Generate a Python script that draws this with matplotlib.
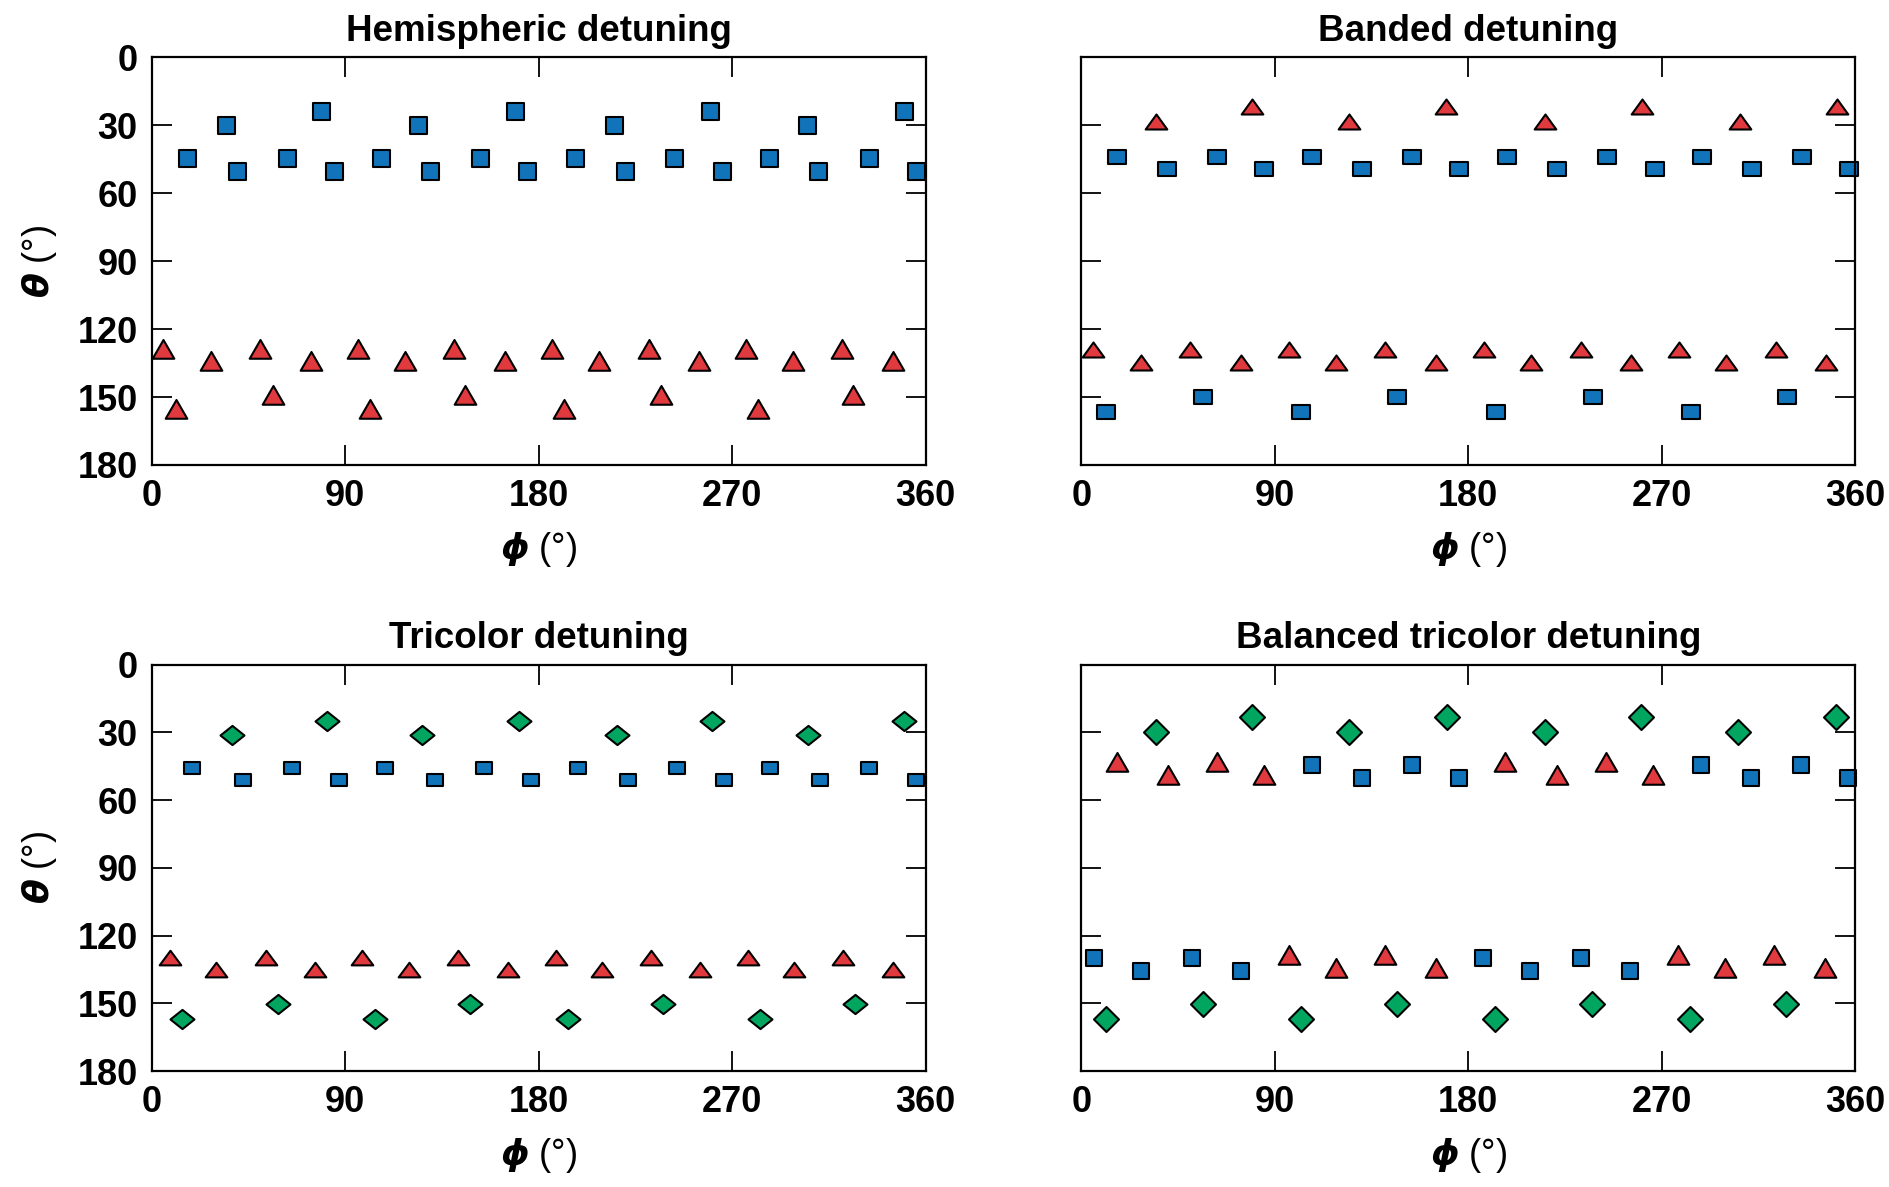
import numpy as np
import matplotlib
matplotlib.use("Agg")
import matplotlib.pyplot as plt
from matplotlib.markers import MarkerStyle
from matplotlib.path import Path

plt.rcParams['font.family'] = ['Liberation Sans', 'DejaVu Sans']
plt.rcParams['mathtext.fontset'] = 'dejavusans'

# ---- data (phi, theta in degrees) ----
titles = ["Hemispheric detuning", "Banded detuning",
          "Tricolor detuning", "Balanced tricolor detuning"]
x_ticks = [0, 90, 180, 270, 360]
y_ticks = [0, 30, 60, 90, 120, 150, 180]

# Hemispheric detuning
hemi_sq_phi = [16.5, 34.6, 39.7, 62.8, 79.0, 84.7, 106.8, 123.9, 129.6, 152.9, 169.1, 174.7,
               197.1, 215.0, 220.4, 243.2, 259.6, 265.3, 287.2, 304.8, 310.2, 333.5, 350.0, 355.4]
hemi_sq_theta = [44.5, 30.0, 50.0, 44.5, 23.5, 50.0, 44.5, 30.0, 50.0, 44.5, 23.5, 50.0,
                 44.5, 30.0, 50.0, 44.5, 23.5, 50.0, 44.5, 30.0, 50.0, 44.5, 23.5, 50.0]
hemi_tri_phi = [5.4, 11.3, 27.8, 50.6, 56.4, 74.1, 96.0, 101.6, 117.8, 140.9, 146.0, 164.2,
                186.3, 191.9, 208.1, 231.2, 236.8, 254.5, 276.3, 282.0, 298.2, 321.3, 326.4, 344.8]
hemi_tri_theta = [130.3, 156.7, 135.6, 130.3, 150.3, 135.6, 130.3, 156.7, 135.6, 130.3, 150.3, 135.6,
                  130.3, 156.7, 135.6, 130.3, 150.3, 135.6, 130.3, 156.7, 135.6, 130.3, 150.3, 135.6]

# Banded detuning
band_tri_phi = [5.4, 27.7, 34.8, 50.8, 74.3, 79.2, 96.4, 118.5, 124.6, 141.5, 165.1, 169.8,
                187.2, 209.0, 215.8, 232.5, 255.8, 260.8, 277.9, 300.0, 306.4, 323.1, 346.6, 351.5]
band_tri_theta = [130.1, 135.7, 29.4, 130.1, 135.7, 23.0, 130.1, 135.7, 29.4, 130.1, 135.7, 23.0,
                  130.1, 135.7, 29.4, 130.1, 135.7, 23.0, 130.1, 135.7, 29.4, 130.1, 135.7, 23.0]
band_sq_phi = [11.3, 16.5, 40.0, 56.7, 63.0, 85.1, 102.3, 107.2, 130.5, 147.0, 153.8, 175.6,
               193.0, 198.0, 221.5, 238.2, 244.5, 266.9, 283.6, 288.7, 312.0, 328.2, 335.3, 357.2]
band_sq_theta = [156.7, 44.0, 49.5, 150.1, 44.0, 49.5, 156.7, 44.0, 49.5, 150.1, 44.0, 49.5,
                 156.7, 44.0, 49.5, 150.1, 44.0, 49.5, 156.7, 44.0, 49.5, 150.1, 44.0, 49.5]

# Tricolor detuning
tri_dia_phi = [14.1, 37.2, 58.8, 81.4, 103.7, 126.0, 148.1, 170.7,
               193.5, 216.3, 237.9, 260.5, 283.1, 305.4, 327.1, 349.9]
tri_dia_theta = [156.8, 31.2, 150.3, 24.9, 156.8, 31.2, 150.3, 24.9,
                 156.8, 31.2, 150.3, 24.9, 156.8, 31.2, 150.3, 24.9]
tri_sq_phi = [19.0, 42.6, 65.1, 87.0, 108.6, 131.7, 154.7, 176.6,
              198.4, 221.7, 244.5, 266.4, 287.8, 311.1, 333.9, 355.7]
tri_sq_theta = [45.7, 51.2, 45.7, 51.2, 45.7, 51.2, 45.7, 51.2,
                45.7, 51.2, 45.7, 51.2, 45.7, 51.2, 45.7, 51.2]
tri_tri_phi = [8.5, 30.1, 53.4, 76.2, 98.0, 119.9, 142.5, 165.8,
               187.9, 209.3, 232.3, 255.1, 277.5, 298.8, 321.7, 344.9]
tri_tri_theta = [130.6, 136.1, 130.6, 136.1, 130.6, 136.1, 130.6, 136.1,
                 130.6, 136.1, 130.6, 136.1, 130.6, 136.1, 130.6, 136.1]

# Balanced tricolor detuning
bal_dia_phi = [11.3, 34.8, 56.7, 79.5, 102.3, 124.6, 147.0, 170.0,
               192.6, 215.8, 237.7, 260.5, 283.1, 305.7, 327.8, 351.0]
bal_dia_theta = [157.1, 29.7, 150.3, 23.2, 157.1, 29.7, 150.3, 23.2,
                 157.1, 29.7, 150.3, 23.2, 157.1, 29.7, 150.3, 23.2]
bal_tri_phi = [16.7, 40.2, 63.0, 84.9, 96.6, 118.5, 141.3, 165.1,
               197.0, 221.3, 244.1, 265.9, 277.5, 299.6, 322.1, 345.9]
bal_tri_theta = [44.6, 50.0, 44.6, 50.0, 130.1, 135.6, 130.1, 135.6,
                 44.6, 50.0, 44.6, 50.0, 130.1, 135.6, 130.1, 135.6]
bal_sq_phi = [5.9, 28.0, 51.3, 74.3, 107.2, 130.5, 153.8, 175.6,
              186.9, 208.8, 232.3, 255.4, 288.3, 311.5, 334.8, 356.7]
bal_sq_theta = [130.1, 135.6, 130.1, 135.6, 44.6, 50.0, 44.6, 50.0,
                130.1, 135.6, 130.1, 135.6, 44.6, 50.0, 44.6, 50.0]

BLUE = "#1173BA"
RED = "#E03A3F"
GREEN = "#00A660"


def make_marker(kind, squash):
    if kind == "s":
        v = [(-1, -1), (1, -1), (1, 1), (-1, 1), (-1, -1)]
    elif kind == "^":
        v = [(0, 1), (-0.866, -0.5), (0.866, -0.5), (0, 1)]
    else:
        v = [(0, 1), (-1, 0), (0, -1), (1, 0), (0, 1)]
    v = np.array(v, dtype=float)
    v[:, 1] *= squash
    return MarkerStyle(Path(v, closed=True), joinstyle="miter"), np.abs(v).max()


def scatter(ax, phi, theta, kind, color, size_px, squash):
    m, r = make_marker(kind, squash)
    ax.plot(phi, theta, linestyle="none", marker=m, markersize=size_px * r * 0.72,
            markerfacecolor=color, markeredgecolor="black", markeredgewidth=1.5,
            clip_on=False)


fig = plt.figure(figsize=(18.9, 11.87), dpi=100)
rects = [
    [0.0802, 0.6083, 0.4095, 0.3434],
    [0.5721, 0.6083, 0.4095, 0.3434],
    [0.0802, 0.0977, 0.4095, 0.3423],
    [0.5721, 0.0977, 0.4095, 0.3423],
]
axes = [fig.add_axes(r) for r in rects]

# panel 1
scatter(axes[0], hemi_sq_phi, hemi_sq_theta, "s", BLUE, 17, 1.0)
scatter(axes[0], hemi_tri_phi, hemi_tri_theta, "^", RED, 25, 1.0)
# panel 2 (markers a bit squashed in the original)
scatter(axes[1], band_tri_phi, band_tri_theta, "^", RED, 25, 0.8)
scatter(axes[1], band_sq_phi, band_sq_theta, "s", BLUE, 17.5, 0.78)
# panel 3
scatter(axes[2], tri_dia_phi, tri_dia_theta, "D", GREEN, 24, 0.8)
scatter(axes[2], tri_sq_phi, tri_sq_theta, "s", BLUE, 16.5, 0.78)
scatter(axes[2], tri_tri_phi, tri_tri_theta, "^", RED, 25, 0.78)
# panel 4
scatter(axes[3], bal_dia_phi, bal_dia_theta, "D", GREEN, 25, 1.0)
scatter(axes[3], bal_tri_phi, bal_tri_theta, "^", RED, 25, 1.0)
scatter(axes[3], bal_sq_phi, bal_sq_theta, "s", BLUE, 16.5, 1.0)

for i, ax in enumerate(axes):
    ax.set_xlim(0, 360)
    ax.set_ylim(180, 0)
    ax.set_xticks(x_ticks)
    ax.set_yticks(y_ticks)
    ax.tick_params(direction="in", length=14.5, width=1.3, top=True, right=True,
                   labelsize=26, pad=10)
    for s in ax.spines.values():
        s.set_linewidth(1.6)
    for lab in ax.get_xticklabels() + ax.get_yticklabels():
        lab.set_fontweight("bold")
    ax.set_title(titles[i], fontsize=26.5, fontweight="bold", pad=12)
    ax.set_xlabel(r"$\mathbfit{\phi}$ (°)", fontsize=26, labelpad=11)
    if i % 2 == 0:
        ax.set_ylabel(r"$\mathbfit{\theta}$ (°)", fontsize=26, labelpad=13)
    else:
        ax.tick_params(labelleft=False)

fig.savefig("out.png", dpi=100)
